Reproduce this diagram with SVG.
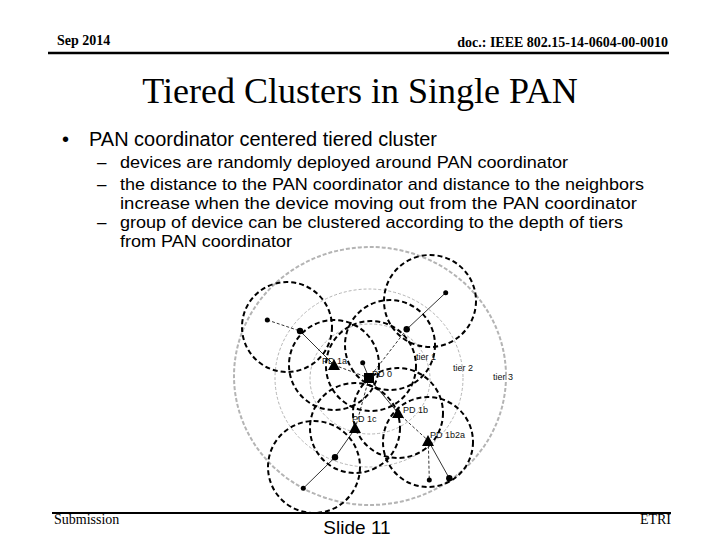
<svg xmlns="http://www.w3.org/2000/svg" width="720" height="540" viewBox="0 0 720 540">
<style>
.hdr{font-family:"Liberation Serif","Times New Roman",serif;font-size:14px;fill:#000}
.title{font-family:"Liberation Serif","Times New Roman",serif;font-size:36px;fill:#000}
.b1{font-family:"Liberation Sans",Arial,sans-serif;font-size:20px;fill:#000}
.b2{font-family:"Liberation Sans",Arial,sans-serif;font-size:17px;fill:#000}
.lbl{font-family:"Liberation Sans",Arial,sans-serif;font-size:9px;fill:#111}
.rng{fill:none;stroke:#000;stroke-width:2;stroke-dasharray:5 3}
.t3{fill:none;stroke:#b4b4b4;stroke-width:2;stroke-dasharray:4 2}
.t12{fill:none;stroke:#b4b4b4;stroke-width:1;stroke-dasharray:3 2}
.ln{stroke:#000;stroke-width:0.8;fill:none}
.lnd{stroke:#000;stroke-width:0.8;fill:none;stroke-dasharray:3 2}
.dev{fill:#000}
</style>
<rect width="720" height="540" fill="#fff"/>
<g id="header">
<text class="hdr" x="57" y="45" font-weight="bold">Sep 2014</text>
<text class="hdr" x="668" y="47" text-anchor="end" font-weight="bold">doc.: IEEE 802.15-14-0604-00-0010</text>
<line x1="48" y1="53" x2="669" y2="53" stroke="#000" stroke-width="2.5"/>
</g>
<text class="title" x="360" y="103" text-anchor="middle">Tiered Clusters in Single PAN</text>
<g id="bullets">
<text class="b1" x="62" y="146">•</text>
<text class="b1" x="89" y="146" textLength="348" lengthAdjust="spacingAndGlyphs">PAN coordinator centered tiered cluster</text>
<text class="b2" x="97" y="168">–</text>
<text class="b2" x="120" y="168" textLength="448" lengthAdjust="spacingAndGlyphs">devices are randomly deployed around PAN coordinator</text>
<text class="b2" x="97" y="190">–</text>
<text class="b2" x="120" y="190" textLength="524" lengthAdjust="spacingAndGlyphs">the distance to the PAN coordinator and distance to the neighbors</text>
<text class="b2" x="120" y="209" textLength="517" lengthAdjust="spacingAndGlyphs">increase when the device moving out from the PAN coordinator</text>
<text class="b2" x="97" y="228">–</text>
<text class="b2" x="120" y="228" textLength="503" lengthAdjust="spacingAndGlyphs">group of device can be clustered according to the depth of  tiers</text>
<text class="b2" x="120" y="247" textLength="172" lengthAdjust="spacingAndGlyphs">from PAN coordinator</text>
</g>
<g id="tiers">
<ellipse class="t3" cx="370" cy="376" rx="136" ry="129"/>
<ellipse class="t12" cx="369" cy="378" rx="94" ry="89"/>
<ellipse class="t12" cx="370" cy="379" rx="60" ry="55"/>
</g>
<g id="ranges">
<circle class="rng" cx="287" cy="327" r="45"/>
<circle class="rng" cx="430" cy="301" r="46"/>
<circle class="rng" cx="390" cy="345" r="45"/>
<circle class="rng" cx="371" cy="366" r="45"/>
<circle class="rng" cx="334" cy="365" r="45"/>
<circle class="rng" cx="398" cy="413" r="45"/>
<circle class="rng" cx="355" cy="428" r="45"/>
<circle class="rng" cx="428" cy="442" r="45"/>
<circle class="rng" cx="314" cy="467" r="46"/>
</g>
<g id="connectors">
<line class="lnd" x1="267.3" y1="320" x2="300" y2="331"/>
<line class="ln" x1="300" y1="331" x2="334" y2="365"/>
<line class="lnd" x1="334" y1="365" x2="369" y2="378"/>
<line class="ln" x1="362.7" y1="362.7" x2="369" y2="378"/>
<line class="ln" x1="445.7" y1="292.7" x2="406.7" y2="329.3"/>
<line class="lnd" x1="406.7" y1="329.3" x2="369" y2="378"/>
<line class="ln" x1="369" y1="378" x2="397.7" y2="412.7"/>
<line class="lnd" x1="369" y1="378" x2="355.3" y2="428.3"/>
<line class="lnd" x1="397.7" y1="412.7" x2="428.3" y2="440.7"/>
<line class="lnd" x1="428.3" y1="440.7" x2="429.3" y2="480"/>
<line class="ln" x1="428.3" y1="440.7" x2="449.3" y2="478.3"/>
<polyline class="ln" points="355.3,428.3 335,457.3 303.3,488.3"/>
</g>
<g id="PD0"><rect x="364" y="373" width="10" height="10" fill="#000"/><text class="lbl" x="372" y="377">PD 0</text></g>
<g id="PD1a"><polygon points="334,359 328,370 340,370" fill="#000"/><text class="lbl" x="322" y="364">PD 1a</text></g>
<g id="PD1b"><polygon points="398,407 392,418 404,418" fill="#000"/><text class="lbl" x="403" y="413">PD 1b</text></g>
<g id="PD1c"><polygon points="355,422 349,433 361,433" fill="#000"/><text class="lbl" x="352" y="422">PD 1c</text></g>
<g id="PD1b2a"><polygon points="428,435 422,446 434,446" fill="#000"/><text class="lbl" x="430" y="438">PD 1b2a</text></g>
<g id="tier-labels">
<text class="lbl" x="416" y="360">tier 1</text>
<text class="lbl" x="453" y="371">tier 2</text>
<text class="lbl" x="493" y="380">tier 3</text>
</g>
<g id="devices">
<circle class="dev" cx="300" cy="331" r="3.2"/>
<circle class="dev" cx="406.7" cy="329.3" r="3.2"/>
<circle class="dev" cx="335" cy="457.3" r="3.2"/>
<circle class="dev" cx="449.3" cy="478.3" r="3.2"/>
<circle class="dev" cx="267.3" cy="320" r="2.5"/>
<circle class="dev" cx="445.7" cy="292.7" r="2.5"/>
<circle class="dev" cx="362.7" cy="362.7" r="2.5"/>
<circle class="dev" cx="303.3" cy="488.3" r="2.5"/>
<circle class="dev" cx="429.3" cy="480" r="2.5"/>
</g>
<g id="footer">
<line x1="52" y1="513" x2="671" y2="513" stroke="#000" stroke-width="2"/>
<text class="hdr" x="54" y="524" font-size="12">Submission</text>
<text x="357" y="534" text-anchor="middle" font-family="Liberation Sans, Arial, sans-serif" font-size="19">Slide 11</text>
<text class="hdr" x="671" y="524" text-anchor="end" font-size="12">ETRI</text>
</g>
</svg>
